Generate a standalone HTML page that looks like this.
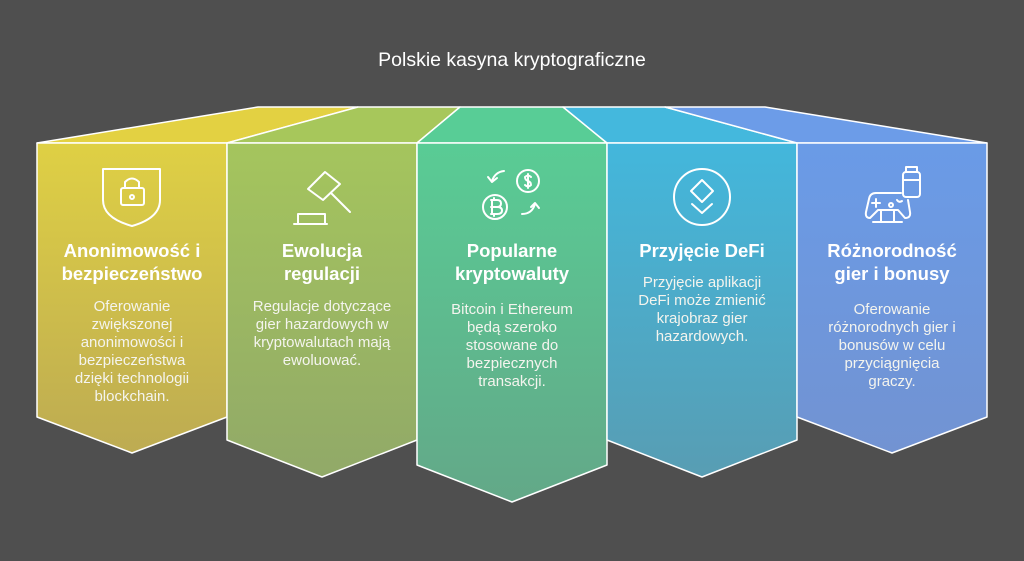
<!DOCTYPE html>
<html><head><meta charset="utf-8"><style>
body{margin:0;width:1024px;height:561px;background:#4f4f4f;overflow:hidden;font-family:"Liberation Sans",sans-serif}
svg{position:absolute;left:0;top:0}
.t{position:absolute;color:#fff;text-align:center;width:190px}
.h{font-weight:bold;font-size:18.5px;line-height:23px;top:239px}
.b{font-size:15px;line-height:18px;color:#f4f4ee}
</style></head><body>
<svg width="1024" height="561" viewBox="0 0 1024 561">
<defs>
<linearGradient id="g1" x1="0" y1="0" x2="0" y2="1"><stop offset="0" stop-color="#dfd044"/><stop offset="1" stop-color="#bdab52"/></linearGradient>
<linearGradient id="g2" x1="0" y1="0" x2="0" y2="1"><stop offset="0" stop-color="#a5c55d"/><stop offset="1" stop-color="#91a968"/></linearGradient>
<linearGradient id="g3" x1="0" y1="0" x2="0" y2="1"><stop offset="0" stop-color="#59cc95"/><stop offset="1" stop-color="#63a888"/></linearGradient>
<linearGradient id="g4" x1="0" y1="0" x2="0" y2="1"><stop offset="0" stop-color="#43b7dc"/><stop offset="1" stop-color="#589db3"/></linearGradient>
<linearGradient id="g5" x1="0" y1="0" x2="0" y2="1"><stop offset="0" stop-color="#6a9be7"/><stop offset="1" stop-color="#7293d2"/></linearGradient>
</defs>
<g stroke="#fff" stroke-width="1.5" stroke-linejoin="round">
<polygon points="37,143 258,107 358,107 227,143" fill="#e3d142"/>
<polygon points="227,143 358,107 460,107 417,143" fill="#a7c75b"/>
<polygon points="417,143 460,107 563,107 607,143" fill="#58cd96"/>
<polygon points="607,143 563,107 665,107 797,143" fill="#44b8dd"/>
<polygon points="797,143 665,107 765,107 987,143" fill="#6c9ce8"/>
<polygon points="37,143 227,143 227,417 132,453 37,417" fill="url(#g1)"/>
<polygon points="227,143 417,143 417,440 322,477 227,440" fill="url(#g2)"/>
<polygon points="417,143 607,143 607,465 512,502 417,465" fill="url(#g3)"/>
<polygon points="607,143 797,143 797,440 702,477 607,440" fill="url(#g4)"/>
<polygon points="797,143 987,143 987,417 892,453 797,417" fill="url(#g5)"/>
</g>
<g stroke="#fff" stroke-width="2" fill="none" stroke-linecap="round" stroke-linejoin="round">
<path d="M103,169 H160 V200 Q160,218 132,226 Q103,218 103,200 Z"/>
<rect x="121" y="188" width="23" height="17" rx="2"/>
<path d="M125,188 V182 Q132,175 139,182 V188"/><circle cx="132" cy="197" r="2"/>
<path d="M308,189 L325,172 L340,184 L323,200 Z"/><path d="M331,193 L350,212"/>
<path d="M298,214 H325 V224 H298 Z"/><path d="M294,224 H327"/>
<circle cx="495" cy="207" r="12"/><path d="M492,200 V214 M491,200 H497 Q501,200 501,203.5 Q501,207 497,207 H491 M497,207 Q502,207 502,210.5 Q502,214 497,214 H491 M494,198 V200 M494,214 V216"/>
<circle cx="528" cy="181" r="11"/><path d="M531,177 Q528,174 525,177 Q525,180 528,181 Q531,182 531,185 Q528,188 525,185 M528,174 V188"/>
<path d="M504,171 Q495,172 492,181 M488,177 L492,182 L497,178"/>
<path d="M522,214 Q532,214 535,204 M531,207 L535,203 L539,208"/>
<circle cx="702" cy="197" r="28"/><path d="M702,180 L713,191 L702,202 L691,191 Z"/><path d="M692,204 L702,213 L712,204"/>
<rect x="903" y="172" width="17" height="25" rx="3"/><path d="M906,172 V167 H917 V172 M903,180 H920"/>
<path d="M901,193 H876 Q870,193 869,199 L866,212 Q865,218 870,218 L878,210 H898 L905,218 Q911,218 910,212 L908,200"/>
<path d="M876,199 V207 M872,203 H880"/><circle cx="891" cy="205" r="2"/><path d="M897,200 Q899,203 902,201"/>
<path d="M873,222 H902 M881,210 V222 M894,210 V222"/>
</g>
</svg>
<div class="t" style="left:262px;width:500px;top:49px;font-size:19.5px">Polskie kasyna kryptograficzne</div>
<div class="t h" style="left:37px">Anonimowość i<br>bezpieczeństwo</div>
<div class="t h" style="left:227px">Ewolucja<br>regulacji</div>
<div class="t h" style="left:417px">Popularne<br>kryptowaluty</div>
<div class="t h" style="left:607px">Przyjęcie DeFi</div>
<div class="t h" style="left:797px">Różnorodność<br>gier i bonusy</div>
<div class="t b" style="left:37px;width:190px;top:298px">Oferowanie<br>zwiększonej<br>anonimowości i<br>bezpieczeństwa<br>dzięki technologii<br>blockchain.</div>
<div class="t b" style="left:227px;width:190px;top:298px">Regulacje dotyczące<br>gier hazardowych w<br>kryptowalutach mają<br>ewoluować.</div>
<div class="t b" style="left:417px;width:190px;top:301px">Bitcoin i Ethereum<br>będą szeroko<br>stosowane do<br>bezpiecznych<br>transakcji.</div>
<div class="t b" style="left:607px;width:190px;top:274px">Przyjęcie aplikacji<br>DeFi może zmienić<br>krajobraz gier<br>hazardowych.</div>
<div class="t b" style="left:797px;width:190px;top:301px">Oferowanie<br>różnorodnych gier i<br>bonusów w celu<br>przyciągnięcia<br>graczy.</div>
</body></html>
